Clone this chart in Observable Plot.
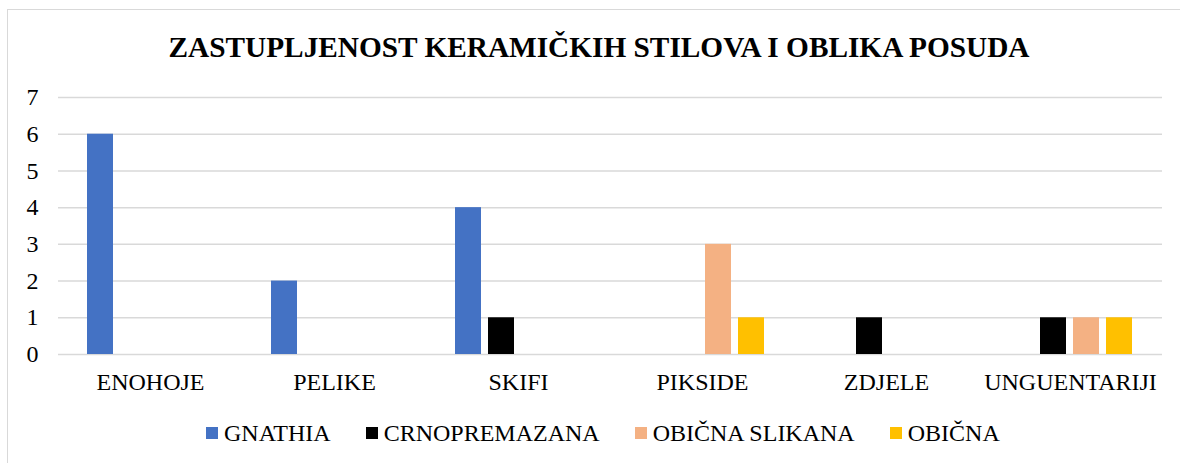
<!DOCTYPE html>
<html>
<head>
<meta charset="utf-8">
<script src="https://cdn.jsdelivr.net/npm/d3@7"></script>
<script src="https://cdn.jsdelivr.net/npm/@observablehq/plot@0.6"></script>
<style>
  html, body { margin: 0; padding: 0; background: #fff; overflow: hidden; }
  #wrap { position: relative; width: 1180px; height: 463px; overflow: hidden; font-family: "Liberation Serif", "Tinos", "DejaVu Serif", serif; }
  #frame { position: absolute; left: 7px; top: 9px; width: 1250px; height: 520px; border: 1.5px solid #d9d9d9; box-sizing: border-box; }
  #title { position: absolute; left: 0; top: 33px; width: 1198px; text-align: center; font-weight: bold; font-size: 29.3px; line-height: 29.3px; color: #000; white-space: nowrap; }
  #chart { position: absolute; left: 0; top: 70px; }
  #legend { position: absolute; left: 206px; top: 421px; display: flex; gap: 35px; font-size: 24px; line-height: 24px; color: #000; white-space: nowrap; }
  .item { display: flex; align-items: center; }
  .sw { width: 12px; height: 12px; margin-right: 6px; }
</style>
</head>
<body>
<div id="wrap">
  <div id="frame"></div>
  <div id="title"></div>
  <div id="chart"></div>
  <div id="legend"></div>
</div>
<script>
const titleText = "ZASTUPLJENOST KERAMIČKIH STILOVA I OBLIKA POSUDA";
const categories = ["ENOHOJE", "PELIKE", "SKIFI", "PIKSIDE", "ZDJELE", "UNGUENTARIJI"];
const seriesNames = ["GNATHIA", "CRNOPREMAZANA", "OBIČNA SLIKANA", "OBIČNA"];
const gnathia       = [6, 2, 4, 0, 0, 0];
const crnopremazana = [0, 0, 1, 0, 1, 1];
const obicnaSlikana = [0, 0, 0, 3, 0, 1];
const obicna        = [0, 0, 0, 1, 0, 1];
const seriesColors = ["#4472C4", "#000000", "#F4B183", "#FFC000"];
const yTicks = [0, 1, 2, 3, 4, 5, 6, 7];

const seriesValues = [gnathia, crnopremazana, obicnaSlikana, obicna];
const data = [];
categories.forEach((c, i) => {
  seriesNames.forEach((s, j) => {
    data.push({category: c, series: s, value: seriesValues[j][i]});
  });
});

document.getElementById("title").textContent = titleText;

const chart = Plot.plot({
  width: 1180,
  height: 340,
  marginTop: 27,
  marginBottom: 56,
  marginLeft: 58,
  marginRight: 18,
  style: {fontFamily: "'Liberation Serif', 'Tinos', 'DejaVu Serif', serif", fontSize: "24px", color: "#000", background: "transparent"},
  facet: {data: data, x: "category"},
  fx: {domain: categories, paddingInner: 0, paddingOuter: 0, tickSize: 0, tickPadding: 18, label: null, axis: "bottom"},
  x: {domain: seriesNames, paddingInner: 0.21, paddingOuter: 0.89, axis: null},
  y: {domain: [0, 7], ticks: yTicks, tickSize: 0, tickPadding: 20, label: null, tickFormat: d => String(d)},
  color: {domain: seriesNames, range: seriesColors},
  marks: [
    Plot.ruleY(yTicks, {stroke: "#d9d9d9", strokeWidth: 1.5}),
    Plot.barY(data, {x: "series", y: "value", fill: "series"})
  ]
});
document.getElementById("chart").appendChild(chart);

const legend = document.getElementById("legend");
seriesNames.forEach((s, j) => {
  const item = document.createElement("div");
  item.className = "item";
  const sw = document.createElement("span");
  sw.className = "sw";
  sw.style.background = seriesColors[j];
  const t = document.createElement("span");
  t.textContent = s;
  item.appendChild(sw);
  item.appendChild(t);
  legend.appendChild(item);
});
</script>
</body>
</html>
